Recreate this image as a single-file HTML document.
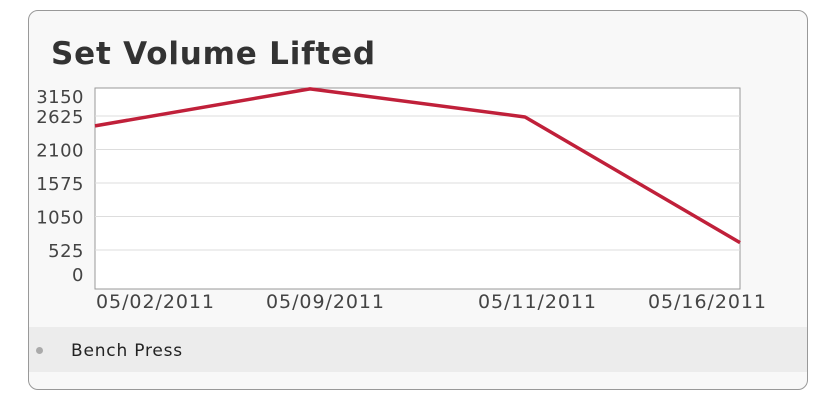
<!DOCTYPE html>
<html><head><meta charset="utf-8"><style>
body{margin:0;width:825px;height:401px;background:#fff;font-family:"DejaVu Sans","Liberation Sans",sans-serif;overflow:hidden;position:relative}
.card{position:absolute;left:28px;top:10px;width:778px;height:378px;border:1px solid #999;border-radius:10px;background:#f8f8f8;overflow:hidden}
.title{position:absolute;left:22px;top:25px;font-size:31px;font-weight:bold;color:#333;letter-spacing:0.8px}
.legend{position:absolute;left:0;top:316px;width:778px;height:45px;background:#ececec}
.dot{position:absolute;left:7px;top:20px;width:7px;height:7px;border-radius:50%;background:#aaa}
.ltext{position:absolute;left:42px;top:14px;font-size:17px;color:#222;letter-spacing:0.8px}
svg{position:absolute;left:0;top:0}
</style></head><body>
<div class="card">
<div class="title">Set Volume Lifted</div>
<div class="legend">
<div class="dot"></div>
<div class="ltext">Bench Press</div>
</div>
</div>
<svg id="chart" width="825" height="401"></svg>
<script>
const categories=["05/02/2011","05/09/2011","05/11/2011","05/16/2011"];
const benchPress=[2470,3050,2610,640];
const yTicks=[0,525,1050,1575,2100,2625,3150];
const labelOffsets=[60,15,12,-33];
const svg=document.getElementById('chart');
const NS='http://www.w3.org/2000/svg';
const L=95,R=740,T=88,B=289;
const y0=283.5,pxPer=33.5/525;
function yS(v){return y0-v*pxPer;}
function xS(i){return L+i*(R-L)/(categories.length-1);}
function mk(t,a){const e=document.createElementNS(NS,t);for(const k in a)e.setAttribute(k,a[k]);svg.appendChild(e);return e;}
const bg=mk('rect',{x:L,y:T,width:R-L,height:B-T,fill:'#fff',stroke:'#999','stroke-width':1});


yTicks.forEach((v,i)=>{
  const gy=yS(v);
  if(v>0&&gy>T+2){const g=mk('line',{x1:L,x2:R,y1:gy,y2:gy,stroke:'#ddd','stroke-width':1});
  
  }
  const ly=Math.min(Math.max(gy,96),274);
  const t=mk('text',{x:84,y:ly+7,'text-anchor':'end','font-size':18,'letter-spacing':0.5,fill:'#444','font-family':'DejaVu Sans, sans-serif'});
  t.textContent=v;
  
  
});
categories.forEach((c,i)=>{
  const t=mk('text',{x:xS(i)+labelOffsets[i]-59,y:308,'font-size':19,textLength:118,lengthAdjust:'spacing',fill:'#444','font-family':'DejaVu Sans, sans-serif'});
  t.textContent=c;
  
  
});
const pts=benchPress.map((v,i)=>xS(i)+','+yS(v)).join(' ');
const pl=mk('polyline',{points:pts,fill:'none',stroke:'#c0203a','stroke-width':3.5,'stroke-linejoin':'round'});


</script>
</body></html>
